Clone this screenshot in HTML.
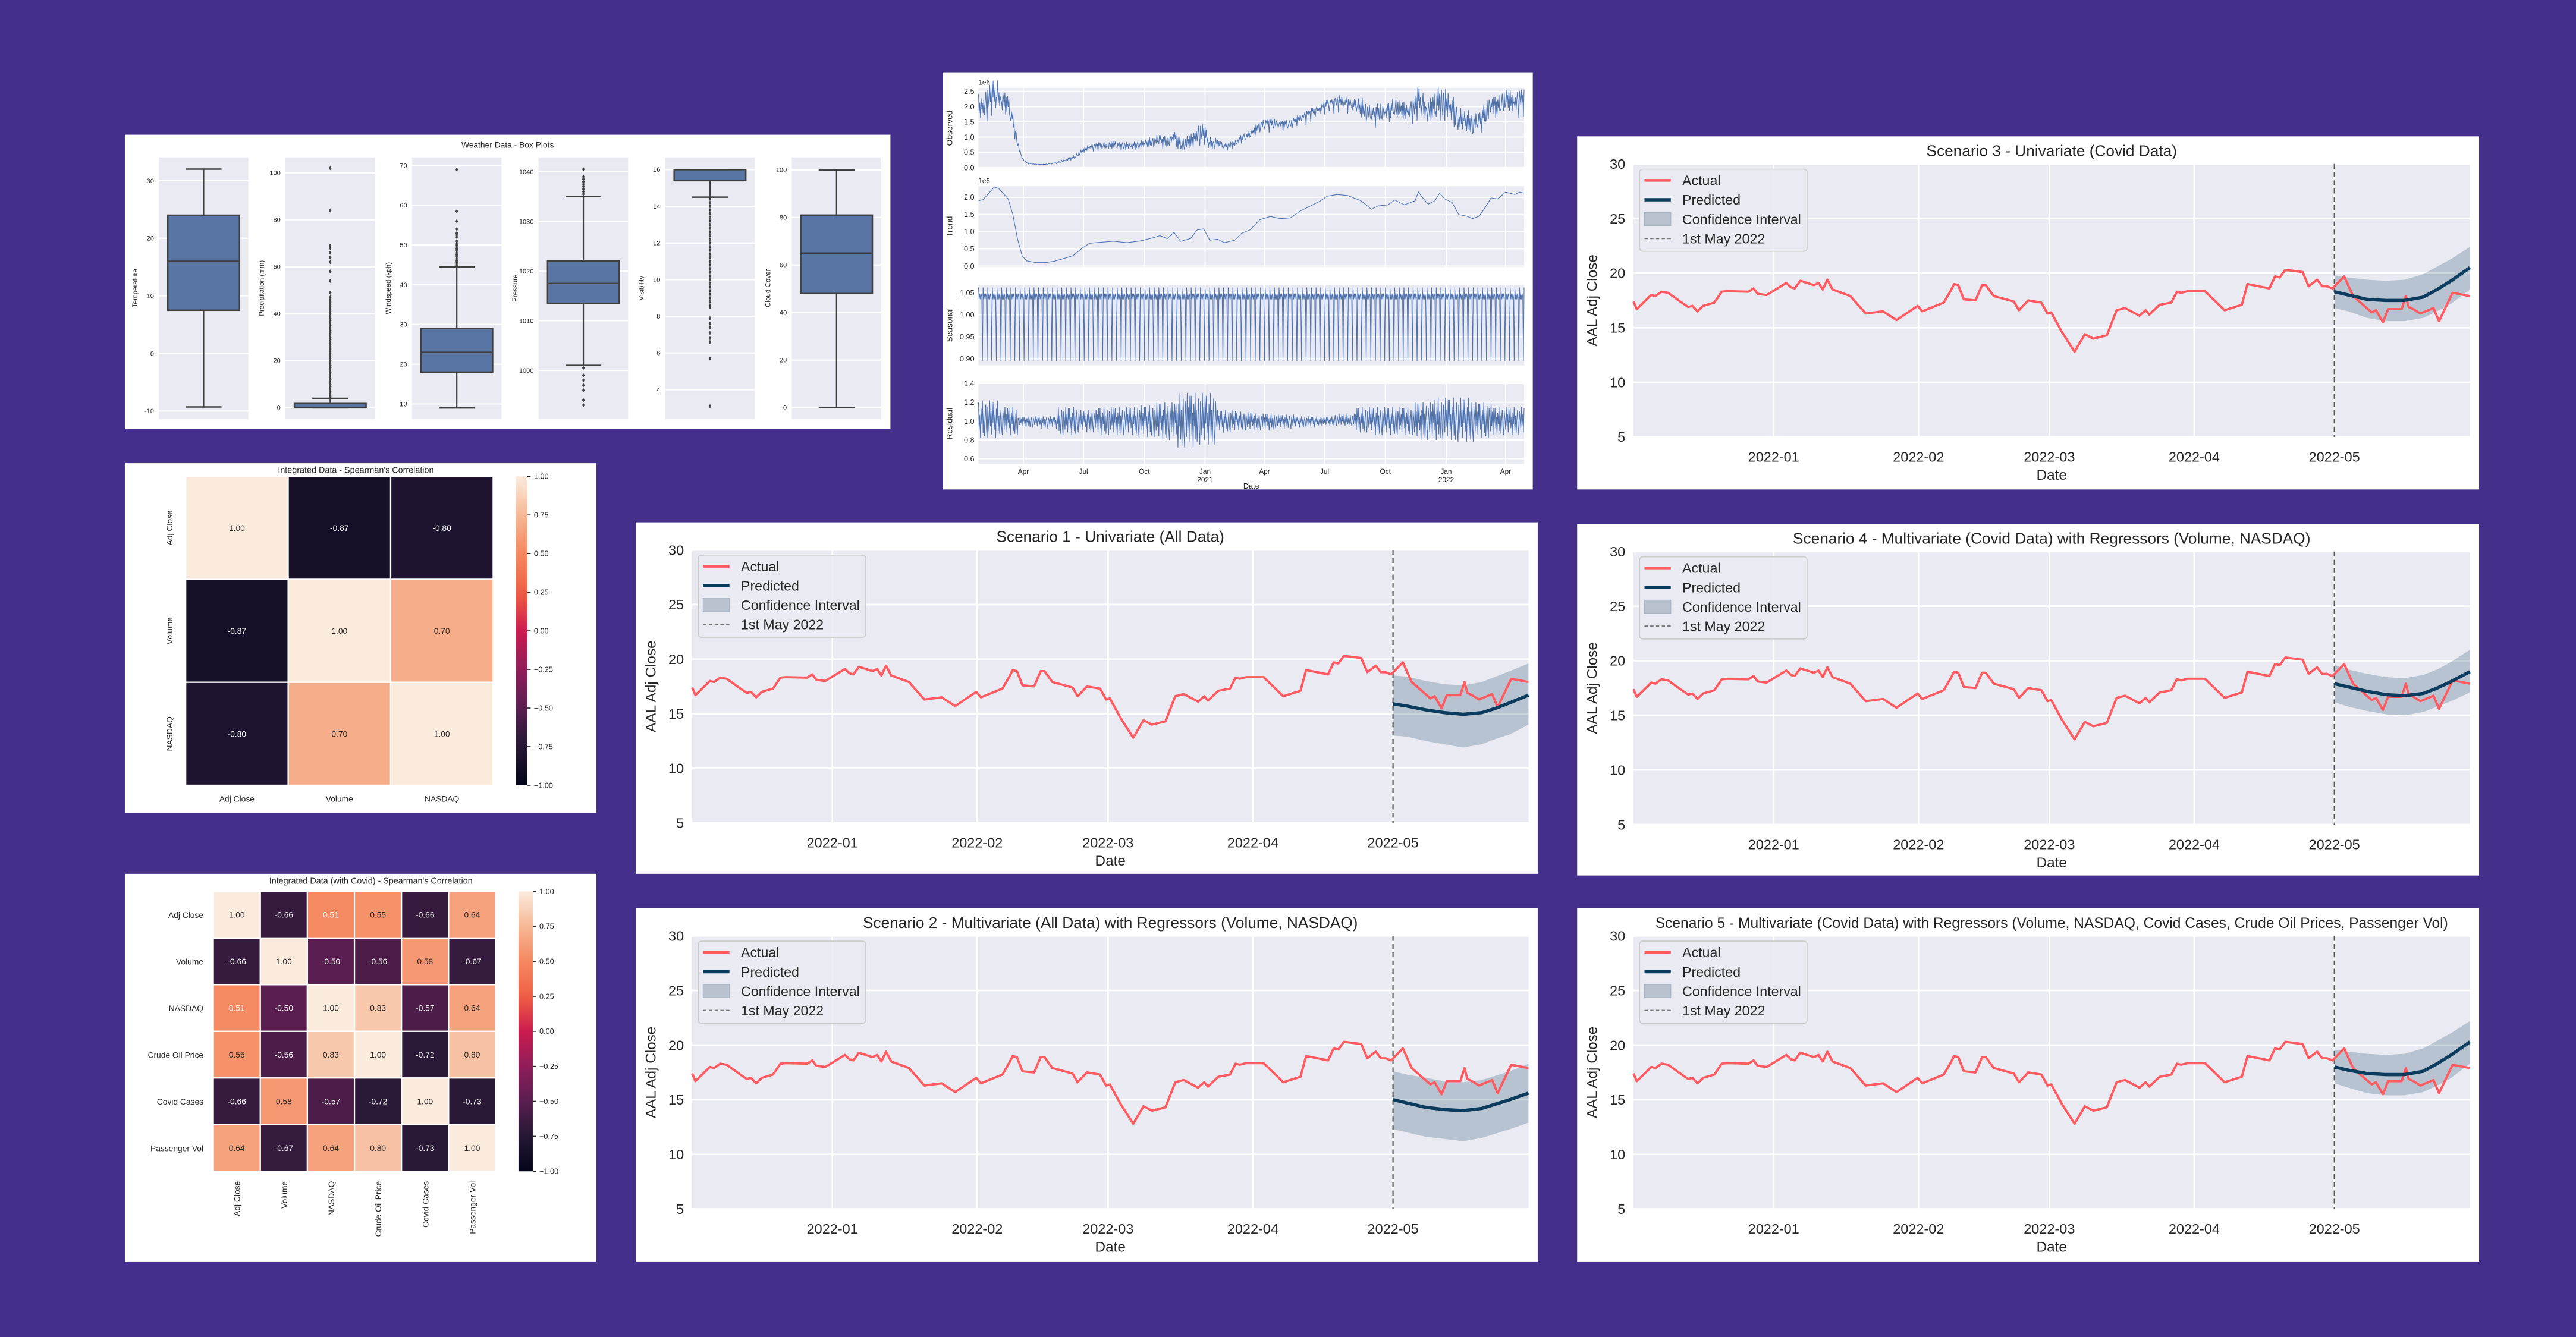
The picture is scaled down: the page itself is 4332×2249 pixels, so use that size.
<!DOCTYPE html>
<html><head><meta charset="utf-8"><title>Dashboard</title>
<style>html,body{margin:0;padding:0;background:#44308a;}svg{display:block;font-family:"Liberation Sans",Arial,sans-serif;}</style>
</head><body>
<svg id="root" xmlns="http://www.w3.org/2000/svg" width="4332" height="2249" viewBox="0 0 1568 814" preserveAspectRatio="none">
<rect x="0" y="0" width="1568" height="814" fill="#44308a"/>
</svg>
<script>
// ---------- Scenario data ----------
const actualDays = [0,0.7,3.8,4.7,6.0,7.4,10.0,11.7,12.6,13.7,14.9,17.3,18.9,20.1,24.6,25.7,26.6,28.5,32.7,33.7,34.5,35.7,38.6,39.6,40.5,41.5,42.6,46.4,49.7,53.4,56.3,60.8,61.8,66.4,67.9,68.6,69.5,70.7,73.2,74.6,75.4,77.1,81.4,82.5,84.5,87.3,88.6,89.4,91.7,94.4,96.6,98.4,101.3,103.4,105.2,108.3,109.6,110.4,112.6,115.1,116.3,117.2,118.6,122.3,126.5,130.2,131.4,136.1,137.3,138.3,139.5,143.2,144.5,146.3,147.4,148.4,149.6,152.1,154.0,158.0,158.9,160.4,161.5,164.4,165.3,165.9,166.9,168.4,171.2,172.4,175.3,179];
const actualVals = [17.4,16.7,18.0,17.9,18.3,18.2,17.4,16.9,17.0,16.5,17.0,17.3,18.3,18.35,18.3,18.6,18.1,18.0,19.1,18.7,18.6,19.3,18.9,19.1,18.5,19.4,18.5,17.9,16.3,16.5,15.7,17.0,16.5,17.3,18.4,19.0,18.9,17.6,17.5,18.9,18.9,17.9,17.4,16.6,17.5,17.3,16.3,16.4,14.6,12.8,14.4,14.0,14.3,16.6,16.8,16.1,16.6,16.2,17.1,17.3,18.3,18.2,18.35,18.35,16.6,17.1,19.0,18.6,19.7,19.6,20.3,20.1,18.8,19.4,18.8,18.8,18.6,19.7,17.9,16.4,16.6,15.5,16.7,16.7,17.9,16.9,16.7,16.3,16.8,15.6,18.2,17.9];
const predDays = [150,153,157,161,165,169,172,175,179];
const s1Pred = [15.9,15.7,15.35,15.1,14.95,15.1,15.5,16.0,16.7];
const s1Hi = [18.5,18.4,18.0,17.7,17.6,17.9,18.4,18.9,19.6];
const s1Lo = [13.0,12.9,12.5,12.2,11.9,12.2,12.7,13.1,14.0];
const s2Pred = [15.0,14.7,14.3,14.1,14.0,14.2,14.6,15.0,15.6];
const s2Hi = [17.6,17.3,17.0,16.7,16.6,16.8,17.2,17.6,18.3];
const s2Lo = [12.3,12.0,11.6,11.4,11.2,11.5,11.9,12.3,12.9];
const s3Pred = [18.3,18.0,17.6,17.5,17.5,17.8,18.5,19.3,20.5];
const s3Hi = [19.8,19.6,19.4,19.3,19.4,19.9,20.6,21.3,22.4];
const s3Lo = [16.8,16.5,15.9,15.6,15.6,15.9,16.5,17.2,18.5];
const s4Pred = [17.9,17.6,17.2,16.9,16.8,17.0,17.5,18.1,19.0];
const s4Hi = [19.6,19.2,18.8,18.5,18.4,18.7,19.2,19.9,21.0];
const s4Lo = [16.2,15.8,15.4,15.1,15.0,15.3,15.8,16.3,17.1];
const s5Pred = [18.0,17.7,17.4,17.3,17.3,17.6,18.3,19.1,20.3];
const s5Hi = [19.6,19.4,19.2,19.1,19.2,19.7,20.4,21.1,22.2];
const s5Lo = [16.5,16.1,15.6,15.4,15.4,15.7,16.3,17.0,18.3];
const scenXTickDays = [30,61,89,120,150];
const scenXTickLabels = ['2022-01','2022-02','2022-03','2022-04','2022-05'];
const scenYTicks = [5,10,15,20,25,30];
const vlineDay = 150;

// ---------- Box plot data ----------
const boxNames = ['Temperature','Precipitation (mm)','Windspeed (kph)','Pressure','Visibility','Cloud Cover'];
const boxDomains = [[-11.4,34.05],[-4.8,106.6],[6.2,72.07],[990.2,1042.9],[2.4,16.67],[-4.8,105.3]];
const boxTicks = [[-10,0,10,20,30],[0,20,40,60,80,100],[10,20,30,40,50,60,70],[1000,1010,1020,1030,1040],[4,6,8,10,12,14,16],[0,20,40,60,80,100]];
const boxQ1 = [7.5,0,18,1013.5,15.4,48];
const boxMed = [16,0.1,23,1017.5,16,65];
const boxQ3 = [24,1.8,29,1022,16,81];
const boxWLo = [-9.3,0,9,1001,14.5,0];
const boxWHi = [32,4,44.5,1035,16,100];
const boxOutliers = [
 [],
 [4.5,5,6,7,8,9,10,11,12,13,14,15,16,17,18,19,20,21,22,23,24,25,26,27,28,29,30,31,32,33,34,35,36,37,38,39,40,41,42,43,44,45,46,47,49,54,58,62,64,66,68,69,84,102],
 [45,45.5,46,46.5,47,47.5,48,48.5,49,49.5,50,50.5,51,52,52.5,53,54,56,58.5,69],
 [1035.5,1036,1036.5,1037,1037.5,1038,1038.5,1039,1040.5,1000.5,999,998,997,996,994,993],
 [14.4,14.2,14,13.8,13.6,13.4,13.2,13,12.8,12.6,12.4,12.2,12,11.8,11.6,11.4,11.2,11,10.8,10.6,10.4,10.2,10,9.8,9.6,9.4,9.2,9,8.8,8.6,8.5,7.9,7.6,7.4,7.1,6.8,6.6,5.7,3.1],
 []
];

// ---------- Decomposition data ----------
const trendDays = [0,7,17,24,31,38,45,52,59,66,73,87,101,115,129,143,157,168,178,204,225,245,260,275,286,296,306,321,331,341,350,362,372,388,398,411,426,442,457,472,487,503,518,528,543,559,579,595,605,620,630,645,661,666,674,681,691,698,706,717,727,739,748,758,767,776,786,798,812,819,826];
const trendVals = [1.9,1.93,2.15,2.3,2.25,2.1,1.95,1.5,0.8,0.3,0.15,0.1,0.1,0.14,0.22,0.3,0.52,0.66,0.68,0.72,0.68,0.73,0.8,0.88,0.8,0.98,0.72,0.8,1.05,1.08,0.75,0.78,0.68,0.75,0.95,1.05,1.35,1.44,1.38,1.4,1.6,1.75,1.9,2.03,2.08,2.05,1.9,1.65,1.75,1.78,1.92,1.78,1.9,2.15,1.95,1.8,1.9,2.12,1.95,1.85,1.5,1.45,1.38,1.45,1.7,1.98,1.95,2.15,2.08,2.15,2.12];
const seasonalPattern = [1.062,1.035,1.048,1.035,1.048,1.04,0.895];
const residHi = [1.22,1.15,1.05,1.05,1.15,1.12,1.15,1.15,1.17,1.2,1.3,1.3,1.12,1.1,1.08,1.07,1.05,1.05,1.08,1.15,1.15,1.15,1.2,1.25,1.25,1.2,1.15,1.15];
const residLo = [0.82,0.85,0.93,0.92,0.85,0.88,0.85,0.85,0.83,0.8,0.72,0.75,0.88,0.9,0.9,0.92,0.93,0.95,0.95,0.88,0.85,0.85,0.8,0.8,0.78,0.82,0.85,0.85];
const residShape = [0.9,-0.5,0.3,-1,0.6,-0.2,1,-0.7,0.4,-0.9,0.1,0.8,-0.4,-1,0.7,0.2,-0.6,1,-0.3,0.5,-0.8,0.9,-0.1];
const decompTickDays = [68,159,251,343,433,524,616,708,798];
const decompTickLabels = ['Apr','Jul','Oct','Jan','Apr','Jul','Oct','Jan','Apr'];
const decompYearLabels = ['','','','2021','','','','2022',''];

// ---------- Heatmap data ----------
const hm1Labels = ['Adj Close','Volume','NASDAQ'];
const hm1Row0 = [1.00,-0.87,-0.80];
const hm1Row1 = [-0.87,1.00,0.70];
const hm1Row2 = [-0.80,0.70,1.00];
const hm2Labels = ['Adj Close','Volume','NASDAQ','Crude Oil Price','Covid Cases','Passenger Vol'];
const hm2Row0 = [1.00,-0.66,0.51,0.55,-0.66,0.64];
const hm2Row1 = [-0.66,1.00,-0.50,-0.56,0.58,-0.67];
const hm2Row2 = [0.51,-0.50,1.00,0.83,-0.57,0.64];
const hm2Row3 = [0.55,-0.56,0.83,1.00,-0.72,0.80];
const hm2Row4 = [-0.66,0.58,-0.57,-0.72,1.00,-0.73];
const hm2Row5 = [0.64,-0.67,0.64,0.80,-0.73,1.00];
const cbarTicks = [-1.00,-0.75,-0.50,-0.25,0.00,0.25,0.50,0.75,1.00];

// ---------- helpers ----------
const NS='http://www.w3.org/2000/svg';
const root=document.getElementById('root');
function mk(tag,attrs,parent){const e=document.createElementNS(NS,tag);for(const k in attrs)e.setAttribute(k,attrs[k]);parent.appendChild(e);return e;}
function tx(parent,x,y,s,size,anchor,fill){const t=mk('text',{x:x,y:y,'font-size':size,'text-anchor':anchor||'start',fill:fill||'#262626'},parent);t.textContent=s;return t;}
function pts(xs,ys){return xs.map((x,i)=>x.toFixed(2)+','+ys[i].toFixed(2)).join(' ');}
const rocketStops=[[0,[3,5,26]],[0.14,[42,26,55]],[0.25,[90,30,80]],[0.375,[143,29,90]],[0.5,[203,27,79]],[0.625,[240,96,67]],[0.75,[245,136,96]],[0.875,[246,184,148]],[1,[250,235,221]]];
function rocket(v){const t=(v+1)/2;for(let i=1;i<rocketStops.length;i++){if(t<=rocketStops[i][0]){const a=rocketStops[i-1],b=rocketStops[i];const f=(t-a[0])/(b[0]-a[0]);const c=a[1].map((q,j)=>Math.round(q+(b[1][j]-q)*f));return 'rgb('+c.join(',')+')';}}return 'rgb(250,235,221)';}

// ---------- Scenario panels ----------
function scenario(x0,y0,h,title,tsize,pred,hi,lo,key){
  const g=mk('g',{},root);
  
  
  const bg=mk('rect',{x:x0,y:y0,width:549,height:h,fill:'#ffffff'},g);
  
  
  const L=x0+34.3,R=x0+543.4,T=y0+16.8,B=y0+183;
  const xs=d=>L+d*(R-L)/179;
  const ys=v=>B-(v-5)*(B-T)/25;
  const pa=mk('rect',{x:L,y:T,width:R-L,height:B-T,fill:'#eaeaf2'},g);
  
  
  scenYTicks.forEach(v=>{
    const gl=mk('line',{x1:L,x2:R,y1:ys(v),y2:ys(v),stroke:'#ffffff','stroke-width':1},g);
    
    
    const t=tx(g,L-5,ys(v)+3,String(v),8.5,'end');
    
    
  });
  scenXTickDays.forEach((d,i)=>{
    const gl=mk('line',{x1:xs(d),x2:xs(d),y1:T,y2:B,stroke:'#ffffff','stroke-width':1},g);
    
    
    const t=tx(g,xs(d),B+15,scenXTickLabels[i],8.5,'middle');
    
    
  });
  const ci=mk('polygon',{points:pts(predDays.map(xs).concat(predDays.slice().reverse().map(xs)),hi.map(ys).concat(lo.slice().reverse().map(ys))),fill:'#0b3c5d','fill-opacity':0.22},g);
  
  
  const vl=mk('line',{x1:xs(vlineDay),x2:xs(vlineDay),y1:T,y2:B,stroke:'#555','stroke-width':0.8,'stroke-dasharray':'3,2'},g);
  
  
  const al=mk('polyline',{points:pts(actualDays.map(xs),actualVals.map(ys)),fill:'none',stroke:'#ff5a5f','stroke-width':1.4,'stroke-linejoin':'round'},g);
  
  
  const pl=mk('polyline',{points:pts(predDays.map(xs),pred.map(ys)),fill:'none',stroke:'#0b3c5d','stroke-width':2,'stroke-linejoin':'round'},g);
  
  
  const tt=tx(g,(L+R)/2,y0+12,title,tsize,'middle');
  
  
  const xl=tx(g,(L+R)/2,y0+209,'Date',8.8,'middle');
  
  
  const yl=tx(g,0,0,'AAL Adj Close',8.8,'middle');
  yl.setAttribute('transform','translate('+(x0+12)+','+((T+B)/2)+') rotate(-90)');
  
  
  const lg=mk('g',{},g);
  
  
  const lb=mk('rect',{x:x0+38,y:y0+20,width:102,height:50,rx:2,fill:'#eaeaf2','fill-opacity':0.85,stroke:'#cccccc','stroke-width':0.6},lg);
  
  
  const ey=[y0+26.8,y0+38.6,y0+50.4,y0+62.2];
  const l1=mk('line',{x1:x0+41,x2:x0+57,y1:ey[0],y2:ey[0],stroke:'#ff5a5f','stroke-width':1.6},lg);
  
  
  const l2=mk('line',{x1:x0+41,x2:x0+57,y1:ey[1],y2:ey[1],stroke:'#0b3c5d','stroke-width':2},lg);
  
  
  const l3=mk('rect',{x:x0+41,y:ey[2]-4,width:16,height:8,fill:'#b8c3cf',stroke:'#a9b6c3','stroke-width':0.5},lg);
  
  
  const l4=mk('line',{x1:x0+41,x2:x0+57,y1:ey[3],y2:ey[3],stroke:'#777','stroke-width':0.8,'stroke-dasharray':'2,1.5'},lg);
  
  
  const names=['Actual','Predicted','Confidence Interval','1st May 2022'];
  names.forEach((n,i)=>{const t=tx(lg,x0+64,ey[i]+3,n,8.4,'start');
    
    });
}
scenario(387,318,214,'Scenario 1 - Univariate (All Data)',9.5,s1Pred,s1Hi,s1Lo,'scenario-1');
scenario(387,553,215,'Scenario 2 - Multivariate (All Data) with Regressors (Volume, NASDAQ)',9.5,s2Pred,s2Hi,s2Lo,'scenario-2');
scenario(960,83,215,'Scenario 3 - Univariate (Covid Data)',9.5,s3Pred,s3Hi,s3Lo,'scenario-3');
scenario(960,319,214,'Scenario 4 - Multivariate (Covid Data) with Regressors (Volume, NASDAQ)',9.5,s4Pred,s4Hi,s4Lo,'scenario-4');
scenario(960,553,215,'Scenario 5 - Multivariate (Covid Data) with Regressors (Volume, NASDAQ, Covid Cases, Crude Oil Prices, Passenger Vol)',8.9,s5Pred,s5Hi,s5Lo,'scenario-5');

// ---------- Box plots ----------
(function(){
  const g=mk('g',{},root);
  
  
  const bg=mk('rect',{x:76,y:82,width:466,height:179,fill:'#ffffff'},g);
  
  
  const tt=tx(g,309,90,'Weather Data - Box Plots',5,'middle');
  
  
  const T=95.8,B=255.1,W=54.5;
  boxNames.forEach((name,i)=>{
    const x0=96.7+i*77.05;
    const dm=boxDomains[i];
    const ys=v=>B-(v-dm[0])*(B-T)/(dm[1]-dm[0]);
    const pa=mk('rect',{x:x0,y:T,width:W,height:B-T,fill:'#eaeaf2'},g);
    
    
    boxTicks[i].forEach(v=>{
      const gl=mk('line',{x1:x0,x2:x0+W,y1:ys(v),y2:ys(v),stroke:'#fff','stroke-width':0.8},g);
      
      
      const t=tx(g,x0-3,ys(v)+1.4,String(v),4,'end');
      
      
    });
    const cx=x0+W/2;
    const wl=mk('line',{x1:cx,x2:cx,y1:ys(boxWHi[i]),y2:ys(boxWLo[i]),stroke:'#3f3f3f','stroke-width':0.8},g);
    
    
    [boxWHi[i],boxWLo[i]].forEach(v=>{
      const c=mk('line',{x1:cx-W*0.2,x2:cx+W*0.2,y1:ys(v),y2:ys(v),stroke:'#3f3f3f','stroke-width':0.9},g);
      
      
    });
    const bx=mk('rect',{x:x0+W*0.1,y:ys(boxQ3[i]),width:W*0.8,height:Math.max(0.6,ys(boxQ1[i])-ys(boxQ3[i])),fill:'#5975a4',stroke:'#3f3f3f','stroke-width':0.9},g);
    
    
    const md=mk('line',{x1:x0+W*0.1,x2:x0+W*0.9,y1:ys(boxMed[i]),y2:ys(boxMed[i]),stroke:'#3f3f3f','stroke-width':0.9},g);
    
    
    boxOutliers[i].forEach(v=>{
      const o=mk('path',{d:'M'+cx+','+(ys(v)-1.3)+' l0.8,1.3 l-0.8,1.3 l-0.8,-1.3 z',fill:'#3f3f3f'},g);
      
      
    });
    const yl=tx(g,0,0,name,4.2,'middle');
    yl.setAttribute('transform','translate('+(x0-13)+','+((T+B)/2)+') rotate(-90)');
    
    
  });
})();

// ---------- Decomposition ----------
(function(){
  const g=mk('g',{},root);
  
  
  const bg=mk('rect',{x:574,y:44,width:359,height:254,fill:'#ffffff'},g);
  
  
  const L=595.6,R=927.7;
  const xs=d=>L+d*(R-L)/826;
  function trendAt(d){for(let i=1;i<trendDays.length;i++){if(d<=trendDays[i]){const f=(d-trendDays[i-1])/(trendDays[i]-trendDays[i-1]);return trendVals[i-1]+(trendVals[i]-trendVals[i-1])*f;}}return trendVals[trendVals.length-1];}
  function resAt(d){const b=Math.min(27,Math.floor(d/30));const s=residShape[d%residShape.length];return s>=0?1+(residHi[b]-1)*s:1+(1-residLo[b])*s;}
  const days=[];for(let d=0;d<=826;d++)days.push(d);
  const panels=[
    {name:'Observed',T:53.6,B:102.4,dom:[-0.02,2.61],ticks:[0,0.5,1,1.5,2,2.5],fmt:v=>v.toFixed(1),e6:true,vals:days.map(d=>trendAt(d)*seasonalPattern[d%7]*resAt(d)),xsA:days},
    {name:'Trend',T:113.4,B:162.6,dom:[-0.03,2.32],ticks:[0,0.5,1,1.5,2],fmt:v=>v.toFixed(1),e6:true,vals:trendVals,xsA:trendDays},
    {name:'Seasonal',T:173.4,B:222.4,dom:[0.885,1.068],ticks:[0.9,0.95,1.0,1.05],fmt:v=>v.toFixed(2),vals:days.map(d=>seasonalPattern[d%7]),xsA:days},
    {name:'Residual',T:233.5,B:282.4,dom:[0.545,1.40],ticks:[0.6,0.8,1.0,1.2,1.4],fmt:v=>v.toFixed(1),vals:days.map(d=>resAt(d)),xsA:days}
  ];
  panels.forEach(p=>{
    const ys=v=>p.B-(v-p.dom[0])*(p.B-p.T)/(p.dom[1]-p.dom[0]);
    const pa=mk('rect',{x:L,y:p.T,width:R-L,height:p.B-p.T,fill:'#eaeaf2'},g);
    
    
    p.ticks.forEach(v=>{
      const gl=mk('line',{x1:L,x2:R,y1:ys(v),y2:ys(v),stroke:'#fff','stroke-width':0.7},g);
      
      
      const t=tx(g,L-2.5,ys(v)+1.6,p.fmt(v),4.6,'end');
      
      
    });
    decompTickDays.forEach(d=>{
      const gl=mk('line',{x1:xs(d),x2:xs(d),y1:p.T,y2:p.B,stroke:'#fff','stroke-width':0.7},g);
      
      
    });
    const ln=mk('polyline',{points:pts(p.xsA.map(xs),p.vals.map(ys)),fill:'none',stroke:'#4c72b0','stroke-width':0.4},g);
    
    
    if(p.e6){const t=tx(g,L,p.T-2,'1e6',4.2,'start');
      
      }
    const yl=tx(g,0,0,p.name,5,'middle');
    yl.setAttribute('transform','translate('+(L-16)+','+((p.T+p.B)/2)+') rotate(-90)');
    
    
  });
  decompTickDays.forEach((d,i)=>{
    const t=tx(g,xs(d),288.5,decompTickLabels[i],4.3,'middle');
    
    
    if(decompYearLabels[i]){const y=tx(g,xs(d),293.5,decompYearLabels[i],4.3,'middle');
      
      }
  });
  const xl=tx(g,(L+R)/2,297.5,'Date',4.6,'middle');
  
  
})();

// ---------- Heatmaps ----------
function heatmap(px,py,pw,ph,title,labels,rows,cx0,cy0,cw,chh,cbx,cbw,fs,key,rotBottom){
  const g=mk('g',{},root);
  
  
  const bg=mk('rect',{x:px,y:py,width:pw,height:ph,fill:'#ffffff'},g);
  
  
  const n=labels.length;
  const tt=tx(g,cx0+n*cw/2+10,py+6,title,5.2,'middle');
  
  
  rows.forEach((row,r)=>row.forEach((v,c)=>{
    const cell=mk('rect',{x:cx0+c*cw,y:cy0+r*chh,width:cw,height:chh,fill:rocket(v),stroke:'#ffffff','stroke-width':0.8},g);
    
    
    const t=tx(g,cx0+c*cw+cw/2,cy0+r*chh+chh/2+fs*0.36,v.toFixed(2),fs,'middle',v<0.53?'#ffffff':'#262626');
    
    
  }));
  labels.forEach((lab,i)=>{
    let t;
    if(rotBottom){
      t=tx(g,0,0,lab,fs,'end');
      t.setAttribute('transform','translate('+(cx0+i*cw+cw/2+2)+','+(cy0+n*chh+6)+') rotate(-90)');
    } else {
      t=tx(g,cx0+i*cw+cw/2,cy0+n*chh+10,lab,fs,'middle');
    }
    
    
    let s;
    if(rotBottom){ s=tx(g,cx0-6,cy0+i*chh+chh/2+2,lab,fs,'end'); }
    else { s=tx(g,0,0,lab,fs,'middle'); s.setAttribute('transform','translate('+(cx0-8)+','+(cy0+i*chh+chh/2)+') rotate(-90)'); }
    
    
  });
  const H=n*chh;
  const defs=mk('defs',{},g);
  const gr=mk('linearGradient',{id:key+'-grad',x1:0,y1:1,x2:0,y2:0},defs);
  for(let i=0;i<=20;i++){mk('stop',{offset:(i/20),'stop-color':rocket(-1+i/10)},gr);}
  const cb=mk('rect',{x:cbx,y:cy0,width:cbw,height:H,fill:'url(#'+key+'-grad)'},g);
  
  
  cbarTicks.forEach(v=>{
    const y=cy0+H-(v+1)/2*H;
    const tk=mk('line',{x1:cbx+cbw,x2:cbx+cbw+2,y1:y,y2:y,stroke:'#262626','stroke-width':0.6},g);
    
    
    const t=tx(g,cbx+cbw+4,y+1.6,(v<0?'\u2212':'')+Math.abs(v).toFixed(2),4.6,'start');
    
    
  });
}
heatmap(76,282,287,213,"Integrated Data - Spearman's Correlation",hm1Labels,[hm1Row0,hm1Row1,hm1Row2],113,290,62.4,62.7,314,7,5,'spearman-3x3',false);
heatmap(76,532,287,236,"Integrated Data (with Covid) - Spearman's Correlation",hm2Labels,[hm2Row0,hm2Row1,hm2Row2,hm2Row3,hm2Row4,hm2Row5],129.8,542.7,28.65,28.4,315.6,8.7,5,'spearman-6x6',true);
</script>
</body></html>
